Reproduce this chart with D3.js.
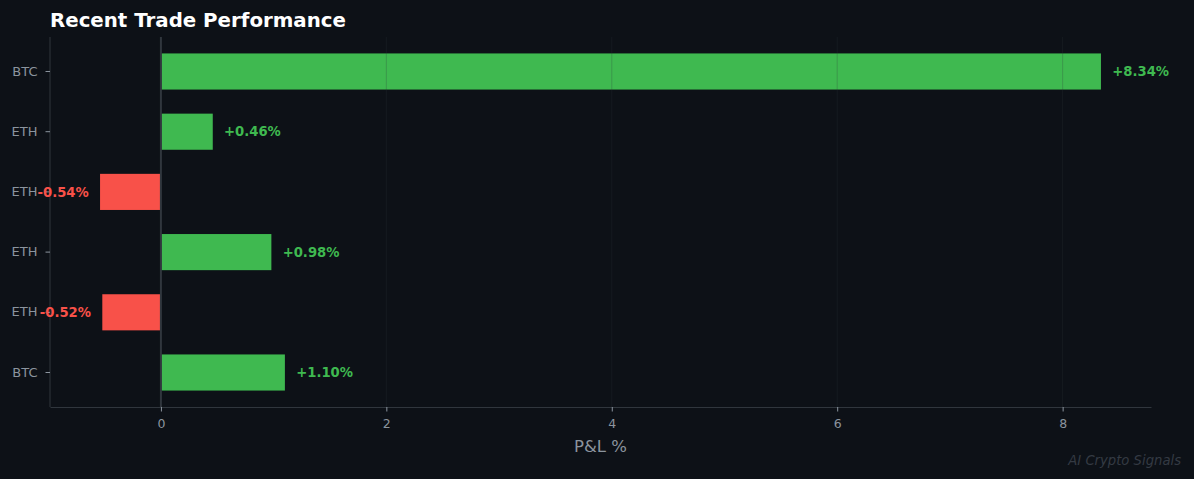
<!DOCTYPE html>
<html>
<head>
<meta charset="utf-8">
<script src="https://cdn.jsdelivr.net/npm/d3@7"></script>
<style>
  html, body { margin: 0; padding: 0; background: #0d1117; }
  svg { display: block; font-family: "DejaVu Sans", sans-serif; }
</style>
</head>
<body>
<svg id="chart" width="1194" height="479"></svg>
<script>
// trades, top to bottom
const symbols = ['BTC', 'ETH', 'ETH', 'ETH', 'ETH', 'BTC'];
const pnl = [8.34, 0.46, -0.54, 0.98, -0.52, 1.10];
const xTicks = [0, 2, 4, 6, 8];

const W = 1194, H = 479;
const margin = { top: 37, right: 43, bottom: 72, left: 50 };
const green = '#3fb950', red = '#f85149';
const muted = '#8b949e', lineCol = '#30363d';

const svg = d3.select('#chart');
svg.append('rect').attr('width', W).attr('height', H).attr('fill', '#0d1117');

// matplotlib-like 5% margin on x
const lo = Math.min(0, d3.min(pnl)), hi = Math.max(0, d3.max(pnl));
const pad = (hi - lo) * 0.05;
const x = d3.scaleLinear().domain([lo - pad, hi + pad]).range([margin.left, W - margin.right]);
const y = d3.scaleBand().domain(d3.range(pnl.length))
  .range([margin.top, H - margin.bottom]).paddingInner(0.4).paddingOuter(0.273);

const rows = pnl.map((v, i) => ({ i, v, sym: symbols[i] }));

// bars
svg.append('g').selectAll('rect').data(rows).enter().append('rect')
  .attr('x', d => x(Math.min(0, d.v)))
  .attr('y', d => y(d.i))
  .attr('width', d => Math.abs(x(d.v) - x(0)))
  .attr('height', y.bandwidth())
  .attr('fill', d => d.v >= 0 ? green : red);

// faint vertical grid, over the bars
svg.append('g').selectAll('line').data(xTicks).enter().append('line')
  .attr('x1', d => x(d)).attr('x2', d => x(d))
  .attr('y1', margin.top).attr('y2', H - margin.bottom)
  .attr('stroke', lineCol).attr('stroke-opacity', 0.25).attr('stroke-width', 1);

// zero line
svg.append('line')
  .attr('x1', x(0)).attr('x2', x(0))
  .attr('y1', margin.top).attr('y2', H - margin.bottom)
  .attr('stroke', lineCol).attr('stroke-width', 2);

// x axis
const xAxis = svg.append('g')
  .attr('transform', `translate(0,${H - margin.bottom})`)
  .call(d3.axisBottom(x).tickValues(xTicks).tickSize(4.5).tickSizeOuter(0).tickPadding(8).tickFormat(d3.format('d')));
xAxis.select('.domain').attr('stroke', lineCol);
xAxis.selectAll('.tick line').attr('stroke', muted);
xAxis.selectAll('text').attr('fill', muted).attr('font-size', 12.5).attr('font-family', 'DejaVu Sans');

// y axis
const yAxis = svg.append('g')
  .attr('transform', `translate(${margin.left},0)`)
  .call(d3.axisLeft(y).tickSize(4.5).tickSizeOuter(0).tickPadding(8).tickFormat(i => symbols[i]));
yAxis.select('.domain').attr('stroke', lineCol).attr('d', `M0,${margin.top}V${H - margin.bottom}`);
yAxis.selectAll('.tick line').attr('stroke', muted);
yAxis.selectAll('text').attr('fill', muted).attr('font-size', 13).attr('font-family', 'DejaVu Sans');

// value labels
const off = 0.1;
svg.append('g').selectAll('text').data(rows).enter().append('text')
  .attr('x', d => d.v >= 0 ? x(d.v + off) : x(d.v - off))
  .attr('y', d => y(d.i) + y.bandwidth() / 2)
  .attr('dy', '0.35em')
  .attr('text-anchor', d => d.v >= 0 ? 'start' : 'end')
  .attr('fill', d => d.v >= 0 ? green : red)
  .attr('font-size', 13.2).attr('font-weight', 'bold')
  .text(d => (d.v >= 0 ? '+' : '') + d.v.toFixed(2) + '%');

// title
svg.append('text').attr('x', margin.left).attr('y', 27)
  .attr('fill', '#ffffff').attr('font-size', 19.8).attr('font-weight', 'bold')
  .text('Recent Trade Performance');

// x label
svg.append('text').attr('x', (x.range()[0] + x.range()[1]) / 2).attr('y', 452)
  .attr('text-anchor', 'middle').attr('fill', muted).attr('font-size', 16.5)
  .text('P&L %');

// watermark
svg.append('text').attr('x', 1181).attr('y', 465)
  .attr('text-anchor', 'end').attr('fill', '#343a43').attr('font-size', 13.2)
  .attr('font-style', 'italic').text('AI Crypto Signals');
</script>
</body>
</html>
